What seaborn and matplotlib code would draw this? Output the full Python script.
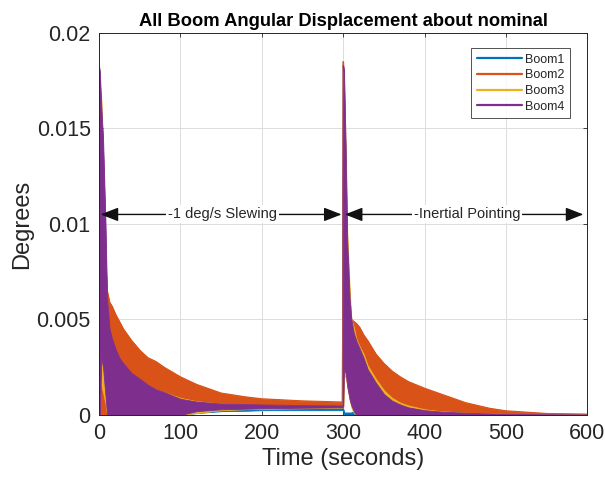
import numpy as np
import pandas as pd
import matplotlib
matplotlib.use("Agg")
import matplotlib.pyplot as plt
import seaborn as sns
from matplotlib.ticker import FuncFormatter

# envelope of each boom's oscillation (units: 1e-3 deg)
t = [0, 1, 3, 5, 8, 10, 13, 16, 20, 25, 30, 40, 50, 60, 70, 80, 100, 120, 150, 180, 200, 250, 299,
     300, 301, 303, 305, 308, 310, 313, 316, 320, 325, 330, 340, 350, 360, 370, 380, 400, 420, 450,
     480, 500, 550, 600]

boom1_hi = [0, 0.5, 0.5, 0.5, 0.5, 0.5, 0.45, 0.45, 0.4, 0.4, 0.4, 0.4, 0.4, 0.4, 0.4, 0.4, 0.4, 0.38,
            0.36, 0.35, 0.35, 0.35, 0.35,
            0.35, 0.1, 0.1, 0.1, 0.1, 0.1, 0.15, 0.2, 0.2, 0.2, 0.2, 0.18, 0.16, 0.14, 0.12, 0.1,
            0.08, 0.07, 0.05, 0.04, 0.04, 0.03, 0.02]
boom1_lo = [0, 0, 0, 0, 0, 0, 0, 0, 0, 0, 0, 0, 0, 0, 0, 0, 0, 0.1, 0.2, 0.22, 0.25, 0.25, 0.25,
            0.25, 0, 0, 0, 0, 0, 0, 0, 0, 0, 0, 0, 0, 0, 0, 0, 0, 0, 0, 0, 0, 0, 0]

boom2_hi = [0, 17.5, 15.0, 12.0, 8.0, 6.5, 5.9, 5.7, 5.3, 4.9, 4.5, 3.9, 3.4, 3.0, 2.8, 2.5, 2.0, 1.6,
            1.15, 0.95, 0.85, 0.74, 0.68,
            18.5, 17.0, 12.0, 8.0, 6.0, 5.0, 4.9, 4.8, 4.6, 4.2, 3.9, 3.2, 2.7, 2.3, 2.0, 1.75,
            1.4, 1.1, 0.65, 0.35, 0.22, 0.08, 0.04]
boom2_lo = [0, 0, 0, 0, 0, 0, 0, 0, 0.1, 0.2, 0.3, 0.3, 0.35, 0.35, 0.4, 0.4, 0.4, 0.4, 0.42, 0.45,
            0.45, 0.45, 0.45,
            0.45, 2.2, 2.2, 1.5, 0.8, 0.5, 0.2, 0.1, 0.05, 0.05, 0.05, 0.05, 0.05, 0.05, 0.05, 0.05,
            0.03, 0.03, 0.03, 0.02, 0.02, 0.02, 0.02]

boom3_hi = [0, 16.5, 16.5, 13.0, 8.0, 5.0, 4.2, 3.6, 3.3, 2.9, 2.5, 2.1, 1.8, 1.6, 1.35, 1.2, 0.9,
            0.72, 0.6, 0.55, 0.52, 0.5, 0.48,
            18.0, 17.5, 14.0, 9.5, 6.5, 5.0, 4.6, 4.0, 3.6, 3.2, 2.6, 1.9, 1.3, 0.9, 0.65, 0.5,
            0.3, 0.2, 0.12, 0.08, 0.06, 0.04, 0.03]
boom3_lo = [0, 2.0, 1.5, 1.2, 0.6, 0, 0, 0, 0, 0, 0, 0, 0, 0, 0, 0, 0, 0.1, 0.25, 0.3, 0.32, 0.35,
            0.38,
            0.4, 2.0, 2.0, 1.5, 0.8, 0.4, 0.1, 0, 0, 0, 0, 0, 0, 0, 0, 0, 0, 0, 0, 0, 0, 0, 0]

boom4_hi = [18.3, 18.0, 16.0, 14.5, 10.0, 6.0, 4.5, 4.0, 3.5, 3.0, 2.7, 2.2, 1.9, 1.6, 1.35, 1.2,
            0.85, 0.7, 0.6, 0.57, 0.55, 0.52, 0.5,
            18.3, 18.0, 14.0, 9.0, 6.0, 5.0, 4.3, 3.9, 3.5, 3.0, 2.4, 1.7, 1.1, 0.75, 0.55, 0.4,
            0.25, 0.18, 0.12, 0.08, 0.06, 0.04, 0.03]
boom4_lo = [0, 0, 3.0, 2.5, 1.0, 0, 0, 0, 0, 0, 0, 0, 0, 0, 0, 0, 0, 0.2, 0.3, 0.33, 0.35, 0.38, 0.4,
            0.45, 2.4, 2.2, 1.5, 0.8, 0.5, 0.2, 0, 0, 0, 0, 0, 0, 0, 0, 0, 0, 0, 0, 0, 0, 0, 0]

names = ["Boom1", "Boom2", "Boom3", "Boom4"]
colors = ["#0072BD", "#D95319", "#EDB120", "#7E2F8E"]
highs = [boom1_hi, boom2_hi, boom3_hi, boom4_hi]
lows = [boom1_lo, boom2_lo, boom3_lo, boom4_lo]

scale = 1e-3
rows = []
for n, hi in zip(names, highs):
    for tt, v in zip(t, hi):
        rows.append({"Time": tt, "Deg": v * scale, "Boom": n})
df = pd.DataFrame(rows)

sns.set_theme(style="whitegrid")
plt.rcParams["font.family"] = ["Liberation Sans", "DejaVu Sans"]

fig = plt.figure(figsize=(6.05, 4.83), dpi=100)
ax = fig.add_axes([0.1636, 0.1408, 0.8074, 0.7909])

sns.lineplot(data=df, x="Time", y="Deg", hue="Boom", palette=colors, hue_order=names,
             linewidth=0.8, ax=ax, estimator=None, sort=False)
for n, c, hi, lo in zip(names, colors, highs, lows):
    ax.fill_between(t, np.array(lo) * scale, np.array(hi) * scale, color=c, linewidth=0.6,
                    edgecolor=c, zorder=2)

ax.set_xlim(0, 600)
ax.set_ylim(0, 0.02)
ax.set_xticks([0, 100, 200, 300, 400, 500, 600])
ax.set_yticks([0, 0.005, 0.01, 0.015, 0.02])
ax.yaxis.set_major_formatter(FuncFormatter(lambda v, p: "%g" % v))
ax.tick_params(labelsize=15.5, colors="#262626", direction="in", length=3, width=0.6, pad=6,
               bottom=True, left=True, top=True, right=True, labeltop=False, labelright=False)
ax.grid(True, color="#dcdcdc", linewidth=0.7)
ax.set_axisbelow(True)
for s in ax.spines.values():
    s.set_visible(True)
    s.set_color("#262626")
    s.set_linewidth(0.7)

ax.set_xlabel("Time (seconds)", fontsize=17, color="#262626", labelpad=3)
ax.set_ylabel("Degrees", fontsize=17, color="#262626", labelpad=2)
ax.set_title("All Boom Angular Displacement about nominal", fontsize=13.2, fontweight="bold",
             color="#000000", pad=5)

# phase annotations
arrow_kw = dict(arrowstyle="<|-|>,head_length=0.9,head_width=0.35", color="#111111", lw=1.0,
                shrinkA=0, shrinkB=0)
ax.annotate("", xy=(2, 0.0105), xytext=(298, 0.0105), arrowprops=arrow_kw, zorder=5)
ax.annotate("", xy=(302, 0.0105), xytext=(595, 0.0105), arrowprops=arrow_kw, zorder=5)
ax.text(152, 0.0105, "-1 deg/s Slewing", fontsize=10.5, ha="center", va="center", color="#262626",
        bbox=dict(facecolor="white", edgecolor="none", pad=1.5), zorder=6)
ax.text(452, 0.0105, "-Inertial Pointing", fontsize=10.5, ha="center", va="center",
        color="#262626", bbox=dict(facecolor="white", edgecolor="none", pad=1.5), zorder=6)

leg = ax.legend(loc="upper right", bbox_to_anchor=(0.965, 0.961), borderaxespad=0, fontsize=9,
                frameon=True, fancybox=False, handlelength=3.6, labelspacing=0.3,
                borderpad=0.45, handletextpad=0.3)
leg.get_frame().set_edgecolor("#262626")
leg.get_frame().set_linewidth(0.7)
for h in leg.get_lines():
    h.set_linewidth(1.6)

fig.savefig("out.png", dpi=100)
